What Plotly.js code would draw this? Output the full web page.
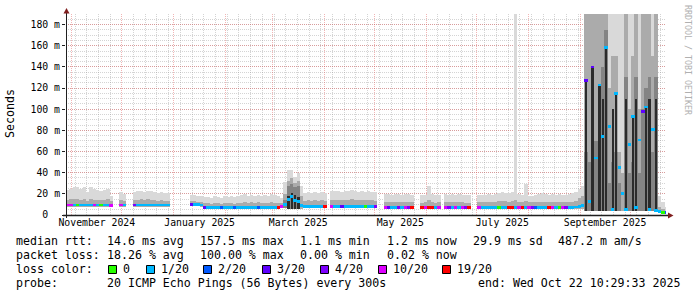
<!DOCTYPE html>
<html><head><meta charset="utf-8">
<script src="https://cdn.plot.ly/plotly-3.0.1.min.js"></script>
<style>html,body{margin:0;padding:0;background:#fff}#chart{width:697px;height:297px}</style>
</head><body><div id="chart"></div>
<script>
// ---- time frame ----
const rangeStart = '2024-10-28T14:00:00';
const rangeEnd = '2025-10-22T10:29:33';
const bucketDays = 2; // each value below covers 2 days, starting at rangeStart

// ---- per-bucket values (ms) ----
const med = [
 9.5,9.5,9.5,9.5,9.5,9.5,9.5,9.5,9.5,9.5,
 9.5,9.5,9.5,9,null,null,9.5,9.5,null,null,
 9.5,9.5,9.5,9.5,9.5,9.5,9.5,9.5,9.5,9.5,
 9.5,null,null,null,null,null,null,10,10,10,
 9.5,7,7,7,7,7,7,7,7,7,
 7,7,7,7,7,7,7,7,6.8,6.8,
 6.8,6.8,6.8,7,8,10,14.6,17.5,14,13,
 9,7.8,7.8,7.8,7.8,7.8,7.8,7.8,null,8.3,
 8.3,8.3,8.3,8.3,8.3,8.3,8.3,8.3,8.3,8.3,
 8.3,8.3,8.3,null,null,7,7,7,7,7,
 7,7,7,7,null,null,7,7,7,7,
 7,7,null,7,7,7,7,7,7,7,
 7,null,null,7,7,7,7,7,7,7,
 7,7,7,7,7,7,7,7,7,7,
 7,7,7,7,7,7,7,7,7,7,
 7,7,7.5,8,9,127,13,140,54,123,
 74,158,84,5,115,45,20,5,67,93,
 7,71,98,102,5,81,4,3,2.5,2.5];
const lo = [
 8,8,8,8,8,8,8,8,8,8,
 8,8,8,7.5,null,null,8,8,null,null,
 8,8,8,8,8,8,8,8,8,8,
 8,null,null,null,null,null,null,8.5,8.5,8.5,
 8,5.5,5.5,5.5,5.5,5.5,5.5,5.5,5.5,5.5,
 5.5,5.5,5.5,5.5,5.5,5.5,5.5,5.5,5.3,5.3,
 5.3,5.3,5.3,5.5,6.5,7,6,6,6,6,
 6,6.3,6.3,6.3,6.3,6.3,6.3,6.3,null,6.8,
 6.8,6.8,6.8,6.8,6.8,6.8,6.8,6.8,6.8,6.8,
 6.8,6.8,6.8,null,null,5.5,5.5,5.5,5.5,5.5,
 5.5,5.5,5.5,5.5,null,null,5.5,5.5,5.5,5.5,
 5.5,5.5,null,5.5,5.5,5.5,5.5,5.5,5.5,5.5,
 5.5,null,null,5.5,5.5,5.5,5.5,5.5,5.5,5.5,
 5.5,5.5,5.5,5.5,5.5,5.5,5.5,5.5,5.5,5.5,
 5.5,5.5,5.5,5.5,5.5,5.5,5.5,5.5,5.5,5.5,
 5.5,5.5,6,6,6,4,4,4,4,4,
 4,4,4,4,4,4,4,4,4,4,
 4,4,4,4,4,4,4,2,1.5,1.5];
// top of the densest (near-black) part of the smoke
const dk = [
 null,null,null,null,null,null,null,null,null,null,
 null,null,null,null,null,null,null,null,null,null,
 null,null,null,null,null,null,null,null,null,null,
 null,null,null,null,null,null,null,null,null,null,
 null,null,null,null,null,null,null,null,null,null,
 null,null,null,null,null,null,null,null,null,null,
 null,null,null,null,null,null,18,21,19,17,
 null,null,null,null,null,null,null,null,null,null,
 null,null,null,null,null,null,null,null,null,null,
 null,null,null,null,null,null,null,null,null,null,
 null,null,null,null,null,null,null,null,null,null,
 null,null,null,null,null,null,null,null,null,null,
 null,null,null,null,null,null,null,null,null,null,
 null,null,null,null,null,null,null,null,null,null,
 null,null,null,null,null,null,null,null,null,null,
 null,null,null,null,null,127,null,140,null,123,
 110,158,null,100,115,null,null,110,null,93,
 110,null,null,102,110,null,110,null,null,null];
// top of the dark-grey smoke
const mk = [
 null,null,null,null,null,null,null,null,null,null,
 null,null,null,null,null,null,null,null,null,null,
 null,null,null,null,null,null,null,null,null,null,
 null,null,null,null,null,null,null,null,null,null,
 null,null,null,null,null,null,null,null,null,null,
 null,null,null,null,null,null,null,null,null,null,
 null,null,null,null,null,14,27,29,26,27,
 null,null,null,null,null,null,null,null,null,null,
 null,null,null,null,null,null,null,null,null,null,
 null,null,null,null,null,null,null,null,null,null,
 null,null,null,null,null,null,null,null,null,null,
 null,null,null,null,null,null,null,null,null,null,
 null,null,null,null,null,null,null,null,null,null,
 null,null,null,null,null,null,null,null,null,null,
 null,null,null,null,null,null,null,null,null,null,
 null,null,null,null,null,60,50,60,70,60,
 140,175,30,50,60,30,null,130,40,50,
 130,40,100,120,130,60,130,null,null,null];
// top of the medium smoke
const md = [
 14,15,15,15,14,15,13,15,14,14,
 14,14,15,13,null,null,14,13,null,null,
 14,14,15,14,15,14,14,13,14,13,
 13,null,null,null,null,null,null,13,13,12,
 12,11,11,10,11,11,10,11,11,11,
 10,11,11,12,11,12,11,12,11,11,
 11,12,11,11,11,20,32,35,30,32,
 18,13,14,13,14,13,14,13,null,14,
 14,14,14,14,14,15,14,14,14,14,
 14,14,13,null,null,12,12,12,12,12,
 12,12,12,12,null,null,11,12,14,12,
 11,12,null,12,12,12,12,12,12,11,
 11,null,null,12,12,12,12,12,12,13,
 13,13,12,13,14,12,12,13,12,12,
 12,12,12,12,12,12,12,12,12,12,
 12,12,13,16,18,250,250,250,250,250,
 250,250,120,150,150,60,40,250,100,150,
 250,100,250,250,250,150,250,8,6,4];
// top of the faint smoke (max ping)
const hi = [
 24,25,26,26,25,26,22,26,25,24,
 23,24,25,18,null,null,22,20,null,null,
 22,23,23,22,23,23,22,21,22,21,
 21,null,null,null,null,null,null,19,19,18,
 18,17,17,16,18,17,16,18,17,18,
 17,18,19,20,18,19,18,19,18,19,
 18,20,19,18,16,31,43,43,36,40,
 27,21,22,21,22,21,22,21,null,23,
 23,23,22,23,23,24,23,22,23,22,
 23,22,22,null,null,20,20,19,20,20,
 19,20,20,19,null,null,19,19,27,20,
 19,19,null,20,19,20,19,20,19,19,
 19,null,null,19,19,19,20,19,20,21,
 22,21,21,22,250,20,19,29,18,18,
 19,20,21,20,19,20,19,20,19,19,
 20,21,22,25,27,250,250,250,250,250,
 250,250,250,250,250,250,250,250,250,250,
 250,250,250,250,250,250,250,18,12,8];
// lost pings out of 20
const loss = [
 10,10,1,0,1,1,1,1,10,1,
 0,1,1,10,null,null,10,1,null,null,
 4,1,1,1,1,1,1,1,1,1,
 1,null,null,null,null,null,null,3,1,1,
 1,3,1,1,1,1,2,1,1,1,
 2,1,1,1,1,1,1,2,1,1,
 1,1,1,19,10,1,1,1,1,1,
 1,1,1,1,1,1,1,19,null,10,
 1,1,3,1,1,1,1,1,1,0,
 1,1,4,null,null,10,3,1,1,4,
 1,10,4,19,null,null,19,10,19,19,
 1,10,null,10,4,1,10,1,10,4,
 19,null,null,10,1,1,1,1,1,0,
 1,1,19,19,1,10,19,1,10,4,
 2,1,1,1,19,10,1,0,10,4,
 1,1,1,1,1,3,1,3,1,1,
 1,1,1,1,1,1,1,1,1,1,
 1,1,3,1,1,1,1,1,0,2];

const lossSteps = [0,1,2,3,4,10,19];
const lossLabels = ['0','1/20','2/20','3/20','4/20','10/20','19/20'];
const lossColors = ['#26ff00','#00b8ff','#0059ff','#5e00ff','#7e00ff','#dd00ff','#ff0000'];

const yTickVals = [0,20,40,60,80,100,120,140,160,180];
const yTickText = ['0\u00a0\u00a0','20 m','40 m','60 m','80 m','100 m','120 m','140 m','160 m','180 m'];
const monthLabelDates = ['2024-11-16','2025-01-16 12:00','2025-03-16 12:00','2025-05-16 12:00','2025-07-16 12:00','2025-09-16'];
const monthLabels = ['November 2024','January 2025','March 2025','May 2025','July 2025','September 2025'];

const rttStats = ['14.6 ms avg','157.5 ms max','1.1 ms min','1.2 ms now','29.9 ms sd','487.2 m am/s'];
const lossStats = ['18.26 % avg','100.00 % max','0.00 % min','0.02 % now'];
const probeText = '20 ICMP Echo Pings (56 Bytes) every 300s';
const endText = 'end: Wed Oct 22 10:29:33 2025';

// ---- build ----
const DAY = 86400000;
const t0 = Date.parse(rangeStart + 'Z');
function fmt(ms){ const d = new Date(ms); const p = n => String(n).padStart(2,'0');
  return d.getUTCFullYear()+'-'+p(d.getUTCMonth()+1)+'-'+p(d.getUTCDate())+' '+p(d.getUTCHours())+':'+p(d.getUTCMinutes())+':'+p(d.getUTCSeconds()); }
const xs = med.map((_, i) => fmt(t0 + (i*bucketDays + bucketDays/2)*DAY));
const bw = bucketDays*DAY*1.03;
function span(top){ return top.map((v,i) => (v==null || lo[i]==null) ? null : v - lo[i]); }
function band(top, color, wf){
  return {type:'bar', x: xs, base: lo, y: span(top), width: bw*(wf||1),
    marker:{color: color, line:{width:0}}, hoverinfo:'skip', showlegend:false};
}
const MT = 2.6;
const medTrace = {type:'bar', x: xs, base: med.map(v => v==null?null:v-MT/2), y: med.map(v => v==null?null:MT),
  width: bw, marker:{color: loss.map(l => l==null?'#fff':lossColors[lossSteps.indexOf(l)]), line:{width:0}},
  hoverinfo:'skip', showlegend:false};

const traces = [band(hi,'#d9d9d9'), band(md,'#ababab'), band(mk,'#848484'), band(dk,'#2b2b2b',0.7), medTrace,
  {type:'scatter', x:[], y:[], xaxis:'x2', showlegend:false}];

const L=66, T=14, W=600, H=201;
const px = x => (x - L)/W, py = y => (T + H - y)/H;
const MONO = 'DejaVu Sans Mono';
const gridMinor = 'rgba(143,143,143,0.38)', gridMajor = 'rgba(222,79,79,0.42)';
const ann = [];
function txt(x, y, s, opt){ ann.push(Object.assign({xref:'paper', yref:'paper', x: px(x), y: py(y), text: s,
  showarrow:false, xanchor:'left', yanchor:'middle', borderpad:0, borderwidth:0,
  font:{family:MONO, size:11.6, color:'#000'}}, opt||{})); }
txt(16,241,'median rtt:');
const rttX = [107,200,300,386.7,472.7,558.3];
rttStats.forEach((s,i) => txt(rttX[i],241,s));
txt(16,255,'packet loss:');
lossStats.forEach((s,i) => txt(rttX[i],255,s));
txt(16,269,'loss color:');
const sqX = [108,146,203,262,320,378,442];
const shapes = [];
lossLabels.forEach((s,i) => {
  txt(sqX[i]+15,269,s);
  shapes.push({type:'rect', xref:'paper', yref:'paper', x0:px(sqX[i]+0.5), x1:px(sqX[i]+8.5), y0:py(273.5), y1:py(265.5),
    fillcolor: lossColors[i], line:{color:'#000', width:1}, layer:'above'});
});
txt(16,283,'probe:');
txt(107,283,probeText);
txt(478.3,283,endText);
txt(10,114,'Seconds',{textangle:-90, xanchor:'center', yanchor:'middle'});
txt(688,60,'RRDTOOL / TOBI OETIKER',{textangle:90, xanchor:'center', yanchor:'middle', font:{family:MONO, size:8.3, color:'#b0b0b0'}});

// axes lines and arrows
shapes.push({type:'line', xref:'paper', yref:'paper', x0:px(66.5), x1:px(66.5), y0:py(218), y1:py(12), line:{color:'#1f1f1f', width:1}, layer:'above'});
shapes.push({type:'line', xref:'paper', yref:'paper', x0:px(63), x1:px(669), y0:py(215.5), y1:py(215.5), line:{color:'#1f1f1f', width:1.5}, layer:'above'});
shapes.push({type:'path', xref:'paper', yref:'paper', path:`M${px(63.5)},${py(13.5)} L${px(69.5)},${py(13.5)} L${px(66.5)},${py(8)} Z`, fillcolor:'#801f1f', line:{width:0}, layer:'above'});
shapes.push({type:'path', xref:'paper', yref:'paper', path:`M${px(668)},${py(212.5)} L${px(668)},${py(218.5)} L${px(673.5)},${py(215.5)} Z`, fillcolor:'#801f1f', line:{width:0}, layer:'above'});

const layout = {
  width:697, height:297, margin:{l:L, r:697-L-W, t:T, b:297-T-H, pad:0},
  paper_bgcolor:'#fff', plot_bgcolor:'#fff', barmode:'overlay', bargap:0, showlegend:false,
  font:{family:MONO, size:9.8, color:'#000'},
  xaxis:{type:'date', range:[rangeStart, rangeEnd], tickmode:'linear', tick0:'2024-11-01', dtick:'M1',
    showticklabels:false, ticks:'', showgrid:true, gridcolor:gridMajor, griddash:'1px,1px', gridwidth:1,
    zeroline:false, showline:false, layer:'above traces', fixedrange:true,
    minor:{tickmode:'linear', tick0:'2024-10-27', dtick:7*DAY, showgrid:true, gridcolor:gridMinor, griddash:'1px,1px', gridwidth:1, ticks:''}},
  xaxis2:{type:'date', overlaying:'x', anchor:'y', side:'bottom', range:[rangeStart, rangeEnd], tickmode:'array',
    tickvals: monthLabelDates, ticktext: monthLabels, showgrid:false, zeroline:false, showline:false, ticks:'',
    tickfont:{family:MONO, size:9.8, color:'#000'}, fixedrange:true},
  yaxis:{range:[0,190], tickmode:'array', tickvals:yTickVals, ticktext:yTickText, showgrid:true, gridcolor:gridMajor,
    griddash:'1px,1px', gridwidth:1, zeroline:false, showline:false, ticks:'outside', ticklen:3, tickcolor:'#1f1f1f',
    layer:'above traces', fixedrange:true, tickfont:{family:MONO, size:9.8, color:'#000'},
    minor:{tickmode:'linear', tick0:0, dtick:5, showgrid:true, gridcolor:gridMinor, griddash:'1px,1px', gridwidth:1, ticks:''}},
  annotations: ann, shapes: shapes
};
Plotly.newPlot('chart', traces, layout, {staticPlot:true, displayModeBar:false});
</script>
</body></html>
